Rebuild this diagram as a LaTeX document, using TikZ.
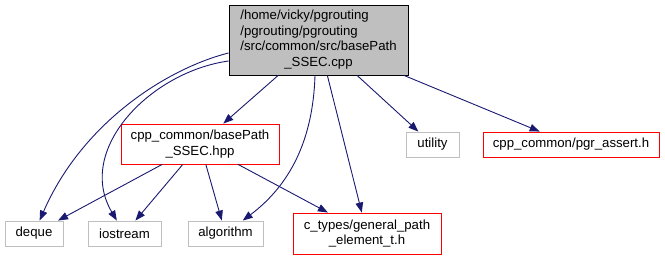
\documentclass[tikz,border=0pt]{standalone}
\usepackage{fontspec}
\setmainfont{Liberation Sans}
\usetikzlibrary{arrows.meta}
\definecolor{edgeblue}{HTML}{191970}
\definecolor{boxgray}{HTML}{BFBFBF}
\begin{document}
\begin{tikzpicture}[x=1pt,y=-1pt,
  every node/.style={inner sep=0pt,font=\fontsize{13.2}{15.5}\selectfont},
  filebox/.style={draw=black,fill=boxgray,line width=0.9pt},
  localbox/.style={draw=red,line width=0.9pt,align=center},
  sysbox/.style={draw=boxgray,line width=0.9pt},
  dep/.style={draw=edgeblue,line width=0.9pt,-{Triangle[length=10pt,width=7.5pt]}}]
\useasboundingbox (0,0) rectangle (665,260);

% the source file itself
\node[filebox,minimum width=179pt,minimum height=70pt] (top) at (318.5,40)
  {\begin{tabular}{@{}l@{}}/home/vicky/pgrouting\\/pgrouting/pgrouting\\/src/common/src/basePath\\\multicolumn{1}{@{}c@{}}{\_SSEC.cpp}\end{tabular}};

% project headers
\node[localbox,minimum width=158pt,minimum height=40pt] (hpp) at (200,144)
  {cpp\_common/basePath\\\_SSEC.hpp};
\node[localbox,minimum width=148pt,minimum height=41pt] (ctypes) at (367,233.5)
  {c\_types/general\_path\\\_element\_t.h};
\node[localbox,minimum width=176pt,minimum height=25pt] (assert) at (571,144.5)
  {cpp\_common/pgr\_assert.h};

% standard headers
\node[sysbox,minimum width=58pt,minimum height=25pt] (deque) at (34,233.5) {deque};
\node[sysbox,minimum width=73pt,minimum height=25pt] (iostream) at (124.5,233.5) {iostream};
\node[sysbox,minimum width=75pt,minimum height=25pt] (algorithm) at (225.5,233.5) {algorithm};
\node[sysbox,minimum width=53pt,minimum height=25pt] (utility) at (432.5,144.5) {utility};

% includes of the source file
\draw[dep] ([yshift=-13pt]top.west) .. controls (169,68) and (83,121) .. (deque);
\draw[dep] ([yshift=-21pt]top.west) .. controls (150,72) and (75,150) .. (iostream);
\draw[dep] (top) -- (hpp);
\draw[dep] ([xshift=-3.5pt]top.south) .. controls (313,140) and (290,185) .. (algorithm);
\draw[dep] (top) -- (ctypes);
\draw[dep] (top) -- (utility);
\draw[dep] (top) -- (assert);

% includes of the header
\draw[dep] (hpp) -- (deque);
\draw[dep] (hpp) -- (iostream);
\draw[dep] (hpp) -- (algorithm);
\draw[dep] (hpp) -- (ctypes);
\end{tikzpicture}
\end{document}
